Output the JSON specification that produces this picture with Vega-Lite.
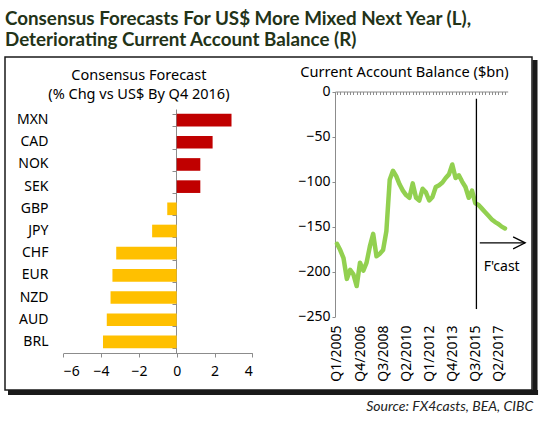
{
  "$schema": "https://vega.github.io/schema/vega-lite/v6.json",
  "width": 527,
  "height": 333,
  "autosize": {"type": "none"},
  "padding": {"left": 5, "top": 57, "right": 19, "bottom": 45},
  "title": {
    "text": ["Consensus Forecasts For US$ More Mixed Next Year (L),", "Deteriorating Current Account Balance (R)"],
    "anchor": "start",
    "frame": "group",
    "font": "Lato",
    "fontSize": 18.8,
    "fontWeight": "bold",
    "color": "#233318",
    "lineHeight": 21,
    "offset": 7
  },
  "config": {
    "view": {"stroke": "#1a1a1a", "strokeWidth": 1.5},
    "axis": {
      "labelFont": "Noto Sans",
      "labelFontSize": 14,
      "labelColor": "#000",
      "domainColor": "#8c8c8c",
      "tickColor": "#8c8c8c",
      "grid": false,
      "labelOverlap": false
    },
    "text": {"font": "Noto Sans", "fontSize": 14, "color": "#000"}
  },
  "datasets": {
    "fx": [
      {"ccy": "MXN", "chg": 2.9},
      {"ccy": "CAD", "chg": 1.9},
      {"ccy": "NOK", "chg": 1.25},
      {"ccy": "SEK", "chg": 1.25},
      {"ccy": "GBP", "chg": -0.5},
      {"ccy": "JPY", "chg": -1.3},
      {"ccy": "CHF", "chg": -3.2},
      {"ccy": "EUR", "chg": -3.4},
      {"ccy": "NZD", "chg": -3.5},
      {"ccy": "AUD", "chg": -3.7},
      {"ccy": "BRL", "chg": -3.9}
    ],
    "cab": [
      {"date": "2005-01-01", "cab": -169},
      {"date": "2005-04-01", "cab": -176},
      {"date": "2005-07-01", "cab": -185},
      {"date": "2005-10-01", "cab": -208},
      {"date": "2006-01-01", "cab": -198},
      {"date": "2006-04-01", "cab": -203},
      {"date": "2006-07-01", "cab": -216},
      {"date": "2006-10-01", "cab": -190},
      {"date": "2007-01-01", "cab": -199},
      {"date": "2007-04-01", "cab": -190},
      {"date": "2007-07-01", "cab": -172},
      {"date": "2007-10-01", "cab": -158},
      {"date": "2008-01-01", "cab": -183},
      {"date": "2008-04-01", "cab": -180},
      {"date": "2008-07-01", "cab": -176},
      {"date": "2008-10-01", "cab": -155},
      {"date": "2009-01-01", "cab": -98},
      {"date": "2009-04-01", "cab": -88},
      {"date": "2009-07-01", "cab": -94},
      {"date": "2009-10-01", "cab": -103},
      {"date": "2010-01-01", "cab": -110},
      {"date": "2010-04-01", "cab": -115},
      {"date": "2010-07-01", "cab": -118},
      {"date": "2010-10-01", "cab": -102},
      {"date": "2011-01-01", "cab": -118},
      {"date": "2011-04-01", "cab": -121},
      {"date": "2011-07-01", "cab": -108},
      {"date": "2011-10-01", "cab": -112},
      {"date": "2012-01-01", "cab": -121},
      {"date": "2012-04-01", "cab": -117},
      {"date": "2012-07-01", "cab": -106},
      {"date": "2012-10-01", "cab": -104},
      {"date": "2013-01-01", "cab": -101},
      {"date": "2013-04-01", "cab": -96},
      {"date": "2013-07-01", "cab": -92},
      {"date": "2013-10-01", "cab": -81},
      {"date": "2014-01-01", "cab": -96},
      {"date": "2014-04-01", "cab": -93},
      {"date": "2014-07-01", "cab": -100},
      {"date": "2014-10-01", "cab": -106},
      {"date": "2015-01-01", "cab": -118},
      {"date": "2015-04-01", "cab": -110},
      {"date": "2015-07-01", "cab": -124},
      {"date": "2015-10-01", "cab": -126},
      {"date": "2016-01-01", "cab": -130},
      {"date": "2016-04-01", "cab": -134},
      {"date": "2016-07-01", "cab": -138},
      {"date": "2016-10-01", "cab": -142},
      {"date": "2017-01-01", "cab": -145},
      {"date": "2017-04-01", "cab": -147},
      {"date": "2017-07-01", "cab": -150},
      {"date": "2017-10-01", "cab": -152}
    ]
  },
  "layer": [
    {
      "data": {"name": "fx"},
      "layer": [
        {
          "mark": {"type": "bar"},
          "encoding": {
            "y": {
              "field": "ccy",
              "type": "nominal",
              "sort": null,
              "scale": {
                "domain": ["MXN", "CAD", "NOK", "SEK", "GBP", "JPY", "CHF", "EUR", "NZD", "AUD", "BRL"],
                "range": [52, 296],
                "paddingInner": 0.43,
                "paddingOuter": 0.215
              },
              "axis": {"orient": "left", "offset": -171, "labels": false, "title": null, "tickBand": "extent", "tickSize": 4}
            },
            "x": {
              "field": "chg",
              "type": "quantitative",
              "scale": {"domain": [-6, 4], "range": [58.3, 247.3], "nice": false},
              "axis": {"orient": "bottom", "offset": -37, "values": [-6, -4, -2, 0, 2, 4], "title": null, "tickSize": 4, "labelPadding": 7}
            },
            "color": {"condition": {"test": "datum.chg > 0", "value": "#C00000"}, "value": "#FFC000"}
          }
        },
        {
          "mark": {"type": "text"},
          "encoding": {
            "y": {
              "field": "ccy",
              "type": "nominal",
              "sort": null,
              "axis": {"orient": "left", "offset": -45, "domain": false, "ticks": false, "title": null, "labelPadding": 2}
            },
            "text": {"value": " "}
          }
        },
        {
          "data": {"values": [{"label": "panel"}]},
          "mark": {"type": "text", "align": "center", "baseline": "middle", "lineHeight": 18.5, "dy": -44, "fontSize": 14.5},
          "encoding": {
            "x": {"datum": -2, "type": "quantitative", "axis": null},
            "y": {"datum": "MXN", "type": "nominal", "axis": null},
            "text": {"value": ["Consensus Forecast", "(% Chg vs US$ By Q4 2016)"]}
          }
        }
      ],
      "resolve": {"axis": {"x": "independent", "y": "independent"}}
    },
    {
      "data": {"name": "cab"},
      "layer": [
        {
          "mark": {"type": "line", "color": "#92D050", "strokeWidth": 4.5, "strokeCap": "round", "strokeJoin": "round"},
          "encoding": {
            "x": {
              "field": "date",
              "type": "temporal",
              "scale": {
                "domain": [{"year": 2004, "month": 11, "date": 7}, {"year": 2017, "month": 12, "date": 15}],
                "range": [330, 502.7],
                "nice": false
              },
              "axis": {"orient": "bottom", "offset": -298.5, "labels": false, "title": null, "tickCount": {"interval": "month", "step": 3}, "tickSize": 3}
            },
            "y": {
              "field": "cab",
              "type": "quantitative",
              "scale": {"domain": [-250, 0], "range": [259.7, 34.5], "nice": false, "zero": false},
              "axis": {"orient": "left", "offset": -330, "values": [0, -50, -100, -150, -200, -250], "title": null, "tickSize": 3, "labelPadding": 2}
            }
          }
        },
        {
          "data": {"values": [{"label": "forecast start"}]},
          "mark": {"type": "rule", "color": "#000", "strokeWidth": 1.3},
          "encoding": {
            "x": {
              "datum": {"year": 2015, "month": 8, "date": 1},
              "type": "temporal",
              "axis": {
                "orient": "bottom",
                "offset": -65,
                "domain": false,
                "ticks": false,
                "title": null,
                "labelPadding": 0,
                "labelAngle": 270,
                "labelAlign": "right",
                "labelBaseline": "middle",
                "values": [
                  {"year": 2005, "quarter": 1},
                  {"year": 2006, "quarter": 4},
                  {"year": 2008, "quarter": 3},
                  {"year": 2010, "quarter": 2},
                  {"year": 2012, "quarter": 1},
                  {"year": 2013, "quarter": 4},
                  {"year": 2015, "quarter": 3},
                  {"year": 2017, "quarter": 2}
                ],
                "labelExpr": "'Q' + quarter(datum.value) + '/' + year(datum.value)"
              }
            },
            "y": {"datum": -8, "type": "quantitative", "axis": null},
            "y2": {"datum": -241.5}
          }
        },
        {
          "data": {"values": [{"label": "arrow"}]},
          "mark": {"type": "rule", "color": "#000", "strokeWidth": 1.3},
          "encoding": {
            "x": {"datum": {"year": 2015, "month": 11, "date": 2}, "type": "temporal", "axis": null},
            "x2": {"datum": {"year": 2019, "month": 4, "date": 12}},
            "y": {"datum": -168, "type": "quantitative", "axis": null}
          }
        },
        {
          "data": {"values": [{"label": "arrow head"}]},
          "mark": {"type": "point", "shape": "M-2,-1L0,0L-2,1", "filled": false, "stroke": "#000", "strokeWidth": 1.3, "size": 144, "opacity": 1},
          "encoding": {
            "x": {"datum": {"year": 2019, "month": 4, "date": 12}, "type": "temporal", "axis": null},
            "y": {"datum": -168, "type": "quantitative", "axis": null}
          }
        },
        {
          "data": {"values": [{"label": "F'cast"}]},
          "mark": {"type": "text", "align": "left", "baseline": "middle", "fontSize": 14},
          "encoding": {
            "x": {"datum": {"year": 2016, "month": 2, "date": 20}, "type": "temporal", "axis": null},
            "y": {"datum": -194.5, "type": "quantitative", "axis": null},
            "text": {"field": "label"}
          }
        },
        {
          "data": {"values": [{"label": "Current Account Balance ($bn)"}]},
          "mark": {"type": "text", "align": "center", "baseline": "middle", "fontSize": 14.6},
          "encoding": {
            "x": {"datum": {"year": 2010, "month": 2, "date": 13}, "type": "temporal", "axis": null},
            "y": {"datum": 20.5, "type": "quantitative", "axis": null},
            "text": {"field": "label"}
          }
        },
        {
          "data": {"values": [{"label": "Source: FX4casts, BEA, CIBC"}]},
          "mark": {"type": "text", "align": "right", "baseline": "middle", "font": "Lato", "fontSize": 14, "fontStyle": "italic", "color": "#222"},
          "encoding": {
            "x": {"datum": {"year": 2019, "month": 11, "date": 20}, "type": "temporal", "axis": null},
            "y": {"datum": -350, "type": "quantitative", "axis": null},
            "text": {"field": "label"}
          }
        },
        {
          "data": {"values": [{"edge": "right shadow"}]},
          "mark": {"type": "rule", "color": "#1a1a1a", "strokeWidth": 5},
          "encoding": {
            "x": {"datum": {"year": 2020, "month": 1, "date": 11}, "type": "temporal", "axis": null},
            "y": {"datum": 35, "type": "quantitative", "axis": null},
            "y2": {"datum": -337}
          }
        },
        {
          "data": {"values": [{"edge": "bottom shadow"}]},
          "mark": {"type": "rule", "color": "#1a1a1a", "strokeWidth": 5},
          "encoding": {
            "x": {"datum": {"year": 1980, "month": 1, "date": 16}, "type": "temporal", "axis": null},
            "x2": {"datum": {"year": 2020, "month": 4, "date": 4}},
            "y": {"datum": -334.1, "type": "quantitative", "axis": null}
          }
        }
      ],
      "resolve": {"axis": {"x": "independent", "y": "independent"}}
    }
  ],
  "resolve": {
    "scale": {"x": "independent", "y": "independent"},
    "axis": {"x": "independent", "y": "independent"}
  }
}
